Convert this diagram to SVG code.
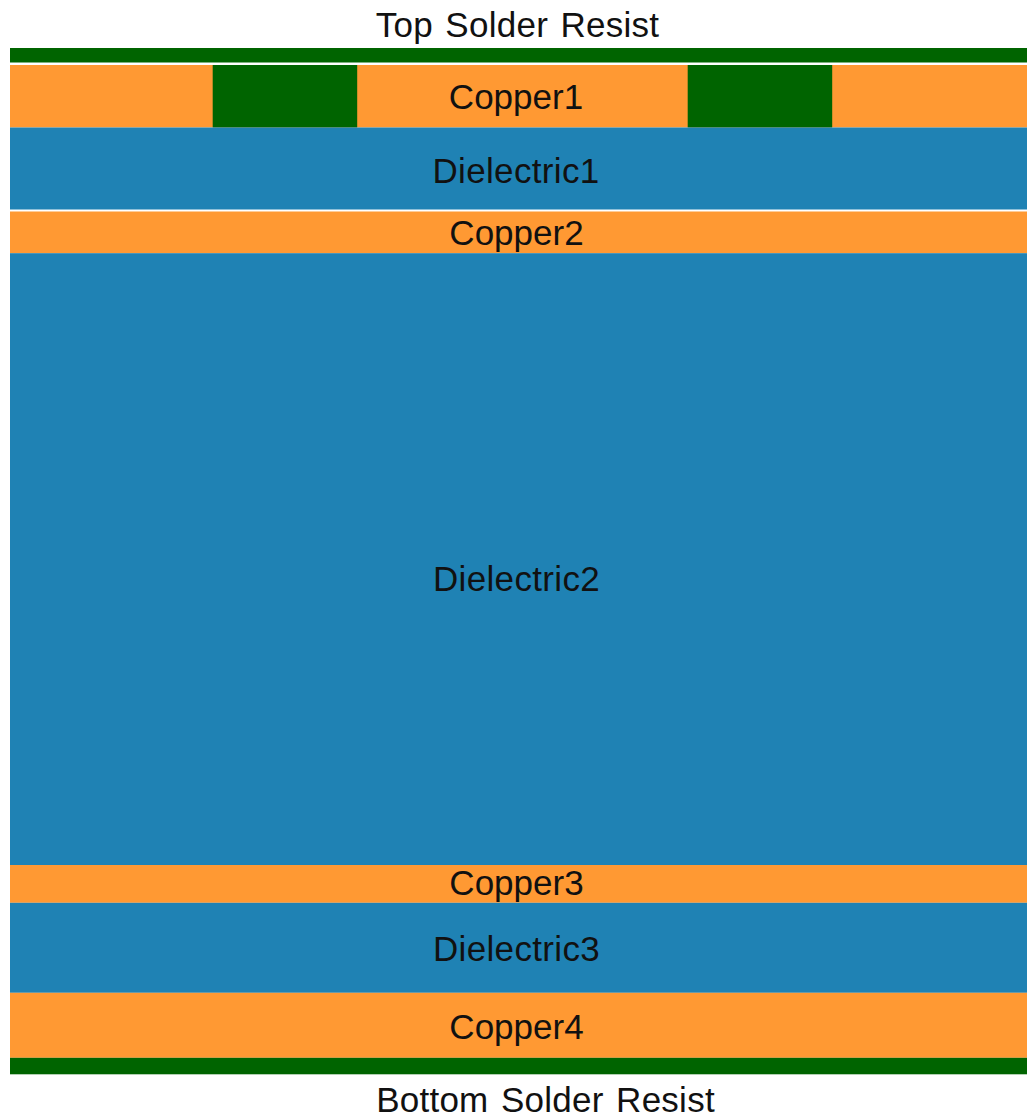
<svg xmlns="http://www.w3.org/2000/svg" width="1027" height="1118" viewBox="0 0 1027 1118">
<style>
.r{fill:#006400}.c{fill:#ff9933}.d{fill:#1f82b4}
text{font-family:"Liberation Sans",Arial,sans-serif;font-size:35px;fill:#111;text-anchor:middle}
.w{word-spacing:2.500px;letter-spacing:.25px}.e{letter-spacing:.35px}
</style>
<rect width="1027" height="1118" fill="#fff"/>
<g id="top-solder-resist"><rect class="r" x="10" y="48" width="1017" height="14.500"/><text class="w" x="517.500" y="37">Top Solder Resist</text></g>
<g id="copper1"><rect class="c" x="10" y="65" width="1017" height="62.500"/><text x="516" y="109">Copper1</text></g>
<g id="resist-fill-left"><rect class="r" x="212.700" y="65" width="144.500" height="62.500"/></g>
<g id="resist-fill-right"><rect class="r" x="687.700" y="65" width="144.500" height="62.500"/></g>
<g id="dielectric1"><rect class="d" x="10" y="127.500" width="1017" height="82"/><text class="e" x="516" y="182.500">Dielectric1</text></g>
<g id="copper2"><rect class="c" x="10" y="211.500" width="1017" height="41.700"/><text x="516.500" y="244.500">Copper2</text></g>
<g id="dielectric2"><rect class="d" x="10" y="253.200" width="1017" height="611.800"/><text class="e" x="516.500" y="590.500">Dielectric2</text></g>
<g id="copper3"><rect class="c" x="10" y="865" width="1017" height="37.800"/><text x="516.500" y="895">Copper3</text></g>
<g id="dielectric3"><rect class="d" x="10" y="902.800" width="1017" height="90"/><text class="e" x="516.500" y="960.500">Dielectric3</text></g>
<g id="copper4"><rect class="c" x="10" y="992.800" width="1017" height="65"/><text x="516.500" y="1039">Copper4</text></g>
<g id="bottom-solder-resist"><rect class="r" x="10" y="1057.800" width="1017" height="16.500"/><text class="w" x="545.500" y="1111.500">Bottom Solder Resist</text></g>
</svg>
